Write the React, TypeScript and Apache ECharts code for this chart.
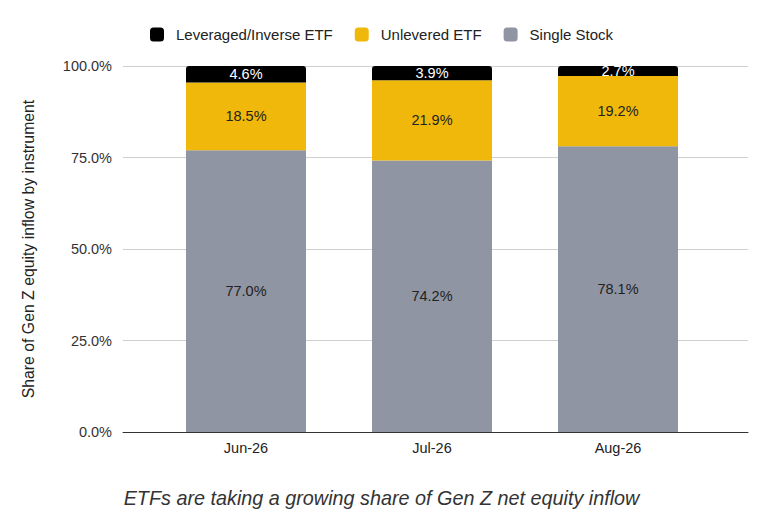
import React, { useEffect, useRef } from 'react';
import * as echarts from 'echarts';

const categories = ['Jun-26', 'Jul-26', 'Aug-26'];
const singleStock = [77.0, 74.2, 78.1];
const unleveredEtf = [18.5, 21.9, 19.2];
const leveragedEtf = [4.6, 3.9, 2.7];
const yTicks = [0, 25, 50, 75, 100];

const FONT = '"Liberation Sans", Arial, sans-serif';

const App: React.FC = () => {
  const chartRef = useRef<HTMLDivElement>(null);

  useEffect(() => {
    if (!chartRef.current) return;
    const chart = echarts.init(chartRef.current, undefined, { renderer: 'svg' });

    const pctLabel = (color: string) => ({
      show: true,
      position: 'inside' as const,
      color,
      fontSize: 14.5,
      fontFamily: FONT,
      formatter: (p: any) => `${Number(p.value).toFixed(1)}%`,
    });

    const option: echarts.EChartsOption = {
      animation: false,
      textStyle: { fontFamily: FONT },
      legend: {
        top: 14,
        left: 'center',
        itemWidth: 14,
        itemHeight: 14,
        itemGap: 22,
        icon: 'roundRect',
        textStyle: { fontSize: 15, color: '#222', fontFamily: FONT, padding: [0, 0, 0, 7] },
        data: ['Leveraged/Inverse ETF', 'Unlevered ETF', 'Single Stock'],
      },
      title: {
        text: 'ETFs are taking a growing share of Gen Z net equity inflow',
        left: 'center',
        top: 475,
        textStyle: {
          fontSize: 19.8,
          fontStyle: 'italic',
          fontWeight: 'normal',
          color: '#333',
          fontFamily: FONT,
        },
      },
      grid: [
        { left: 115, right: 7, top: 58, bottom: 86 },
        { left: 145, right: 44, top: 58, bottom: 86 },
      ],
      xAxis: [
        {
          gridIndex: 0,
          type: 'category',
          data: [''],
          axisLine: { show: true, lineStyle: { color: '#333', width: 1 } },
          axisTick: { show: false },
          axisLabel: { show: false },
        },
        {
          gridIndex: 1,
          type: 'category',
          data: categories,
          axisLine: { show: false },
          axisTick: { show: false },
          axisLabel: { fontSize: 14.5, color: '#222', margin: 8, fontFamily: FONT },
        },
      ],
      yAxis: [
        {
          gridIndex: 0,
          type: 'value',
          min: yTicks[0],
          max: yTicks[yTicks.length - 1],
          interval: 25,
          name: 'Share of Gen Z equity inflow by instrument',
          nameLocation: 'middle',
          nameGap: 87,
          nameTextStyle: { fontSize: 15.8, color: '#222', fontFamily: FONT },
          axisLine: { show: false },
          axisTick: { show: false },
          axisLabel: {
            fontSize: 14.5,
            color: '#333',
            margin: 11,
            fontFamily: FONT,
            formatter: (v: number) => `${v.toFixed(1)}%`,
          },
          splitLine: { lineStyle: { color: '#cfcfcf', width: 1 } },
        },
        {
          gridIndex: 1,
          type: 'value',
          min: 0,
          max: 100,
          show: false,
          splitLine: { show: false },
        },
      ],
      series: [
        {
          name: 'Single Stock',
          type: 'bar',
          stack: 'total',
          xAxisIndex: 1,
          yAxisIndex: 1,
          barWidth: 120,
          data: singleStock,
          itemStyle: { color: '#8f95a3' },
          label: pctLabel('#222'),
        },
        {
          name: 'Unlevered ETF',
          type: 'bar',
          stack: 'total',
          xAxisIndex: 1,
          yAxisIndex: 1,
          barWidth: 120,
          data: unleveredEtf,
          itemStyle: { color: '#f0b80a' },
          label: pctLabel('#222'),
        },
        {
          name: 'Leveraged/Inverse ETF',
          type: 'bar',
          stack: 'total',
          xAxisIndex: 1,
          yAxisIndex: 1,
          barWidth: 120,
          data: leveragedEtf,
          itemStyle: { color: '#000000', borderRadius: [3, 3, 0, 0] },
          label: pctLabel('#ffffff'),
        },
      ],
    };

    chart.setOption(option);
    return () => chart.dispose();
  }, []);

  return <div ref={chartRef} style={{ width: 747, height: 510 }} />;
};

export default App;
